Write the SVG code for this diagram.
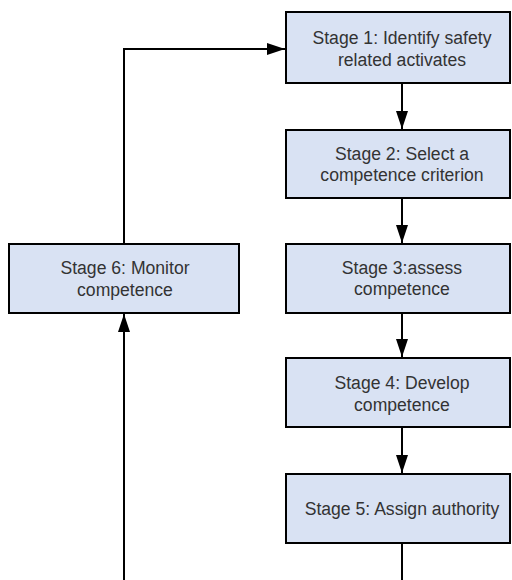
<svg xmlns="http://www.w3.org/2000/svg" width="512" height="580" viewBox="0 0 512 580">
<style>
.box{fill:#d9e2f3;stroke:#000;stroke-width:2}
.lbl{font-family:"Liberation Sans",Arial,sans-serif;font-size:17.6px;fill:#333;text-anchor:middle}
.con{fill:none;stroke:#000;stroke-width:2}
</style>
<defs>
<marker id="ah" viewBox="0 0 18 12" refX="18" refY="6" markerWidth="18" markerHeight="12" markerUnits="userSpaceOnUse" orient="auto">
<path d="M0,0 L18,6 L0,12 Z" fill="#000"/>
</marker>
</defs>
<rect width="512" height="580" fill="#fff"/>
<g id="connectors">
<path class="con" d="M402,83 V129" marker-end="url(#ah)"/>
<path class="con" d="M402,198 V243" marker-end="url(#ah)"/>
<path class="con" d="M402,313 V357" marker-end="url(#ah)"/>
<path class="con" d="M402,427 V473" marker-end="url(#ah)"/>
<path class="con" d="M402,543 V580"/>
<path class="con" d="M124,580 V314" marker-end="url(#ah)"/>
<path class="con" d="M124,244 V49 H285" marker-end="url(#ah)"/>
</g>
<g id="stage1">
<rect class="box" x="286" y="12" width="224" height="71"/>
<text class="lbl" x="402" y="44.3">Stage 1: Identify safety</text>
<text class="lbl" x="402" y="65.8">related activates</text>
</g>
<g id="stage2">
<rect class="box" x="286" y="130" width="224" height="68"/>
<text class="lbl" x="402" y="159.5">Stage 2: Select a</text>
<text class="lbl" x="402" y="181">competence criterion</text>
</g>
<g id="stage3">
<rect class="box" x="286" y="244" width="224" height="69"/>
<text class="lbl" x="402" y="273.5">Stage 3:assess</text>
<text class="lbl" x="402" y="295">competence</text>
</g>
<g id="stage4">
<rect class="box" x="286" y="358" width="224" height="69"/>
<text class="lbl" x="402" y="388.5">Stage 4: Develop</text>
<text class="lbl" x="402" y="410.5">competence</text>
</g>
<g id="stage5">
<rect class="box" x="286" y="474" width="224" height="69"/>
<text class="lbl" x="402" y="515">Stage 5: Assign authority</text>
</g>
<g id="stage6">
<rect class="box" x="9" y="244" width="230" height="69"/>
<text class="lbl" x="125" y="274">Stage 6: Monitor</text>
<text class="lbl" x="125" y="295.7">competence</text>
</g>
</svg>
